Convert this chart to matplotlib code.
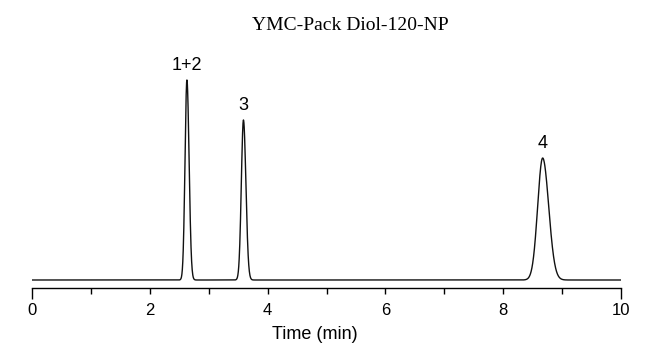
import numpy as np
import matplotlib
matplotlib.use("Agg")
import matplotlib.pyplot as plt

# Peak data
peak_labels = ["1+2", "3", "4"]
retention_times = [2.63, 3.59, 8.67]   # min
peak_heights = [200, 160, 122]         # arbitrary detector units
peak_sigmas = [0.032, 0.036, 0.085]    # min
peak_tails = [1.15, 1.15, 1.2]         # right-side width factor

x_ticks = [0, 2, 4, 6, 8, 10]
x_minor = [1, 3, 5, 7, 9]
title = "YMC-Pack Diol-120-NP"
xlabel = "Time (min)"

t = np.linspace(0, 10, 4001)
signal = np.zeros_like(t)
for rt, h, s, tf in zip(retention_times, peak_heights, peak_sigmas, peak_tails):
    sig = np.where(t < rt, s, s * tf)
    signal += h * np.exp(-0.5 * ((t - rt) / sig) ** 2)

fig = plt.figure(figsize=(6.5, 3.53), dpi=100)
ax = fig.add_axes([32 / 650, 65 / 353, 589 / 650, 227 / 353])
ax.plot(t, signal, color="#111111", lw=1.0)
ax.set_xlim(0, 10)
ax.set_ylim(-8, 219)

for sp in ["top", "left", "right"]:
    ax.spines[sp].set_visible(False)
ax.spines["bottom"].set_linewidth(1.0)
ax.set_yticks([])
ax.set_xticks(x_ticks)
ax.set_xticks(x_minor, minor=True)
ax.tick_params(axis="x", which="major", direction="out", length=4.3, width=1,
               labelsize=12, pad=6.5)
ax.tick_params(axis="x", which="minor", direction="out", length=4.3, width=1)
majors = ax.xaxis.get_major_ticks()
for tk in (majors[0], majors[-1]):
    tk.tick1line.set_markersize(8)
for lab in ax.get_xticklabels():
    lab.set_family("Liberation Sans")

ax.set_xlabel(xlabel, fontsize=13, family="Liberation Sans")
ax.xaxis.set_label_coords((315 - 32) / 589, -0.168)

for lab, rt, h in zip(peak_labels, retention_times, peak_heights):
    ax.annotate(lab, (rt, h), xytext=(0, 4), textcoords="offset points",
                ha="center", va="bottom", fontsize=13, family="Liberation Sans")

fig.text(350 / 650, 1 - 26 / 353, title, ha="center", va="center",
         fontsize=14, family="Liberation Serif")

fig.savefig("out.png", dpi=100)
